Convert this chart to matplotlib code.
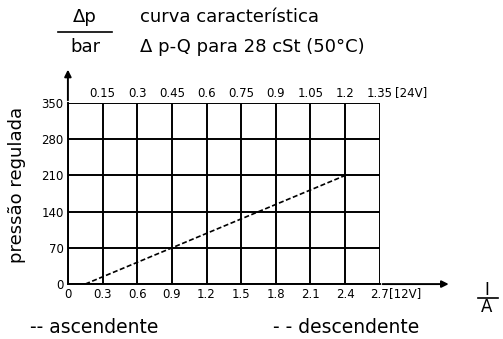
import matplotlib.pyplot as plt
from matplotlib.ticker import FixedLocator

# data
corrente = [0.15, 2.4]          # A (12V)
pressao = [0, 210]              # bar
x_ticks = [0, 0.3, 0.6, 0.9, 1.2, 1.5, 1.8, 2.1, 2.4, 2.7]
x_labels = ["0", "0.3", "0.6", "0.9", "1.2", "1.5", "1.8", "2.1", "2.4", "2.7"]
top_ticks = [0.15, 0.3, 0.45, 0.6, 0.75, 0.9, 1.05, 1.2, 1.35]
top_labels = ["0.15", "0.3", "0.45", "0.6", "0.75", "0.9", "1.05", "1.2", "1.35"]
y_ticks = [0, 70, 140, 210, 280, 350]

fig = plt.figure(figsize=(5.03, 3.39), dpi=100)
ax = fig.add_axes([0.135, 0.162, 0.62, 0.534])

ax.plot(corrente, pressao, color='black', lw=1.2, linestyle=(0, (3, 1.5)))

ax.set_xlim(0, 2.7)
ax.set_ylim(0, 350)
ax.set_xticks(x_ticks)
ax.set_xticklabels(x_labels)
ax.set_yticks(y_ticks)
ax.grid(True, color='black', lw=1.4)
ax.tick_params(length=0, labelsize=8.5, pad=3)
for s in ['top', 'right']:
    ax.spines[s].set_visible(False)
for s in ['left', 'bottom']:
    ax.spines[s].set_linewidth(1.4)
ax.text(1.03, -0.017, "[12V]", transform=ax.transAxes, fontsize=8.5, va='top')

top = ax.secondary_xaxis('top', functions=(lambda x: x / 2, lambda x: x * 2))
top.xaxis.set_major_locator(FixedLocator(top_ticks))
top.set_xticklabels(top_labels)
top.tick_params(length=0, labelsize=8.5, pad=2)
top.spines['top'].set_visible(False)
ax.text(1.05, 1.022, "[24V]", transform=ax.transAxes, fontsize=8.5, va='bottom')

# axis arrows
ax.annotate('', xy=(0, 1.2), xytext=(0, 1.0), xycoords='axes fraction',
            arrowprops=dict(arrowstyle='-|>', color='black', lw=1.4, mutation_scale=10))
ax.annotate('', xy=(1.23, 0), xytext=(1.0, 0), xycoords='axes fraction',
            arrowprops=dict(arrowstyle='-|>', color='black', lw=1.4, mutation_scale=10))

ax.set_ylabel("pressão regulada", fontsize=13)
ax.yaxis.set_label_coords(-0.135, 0.547)

# header texts
fig.text(0.169, 0.95, "Δp", fontsize=13, ha='center', va='center')
fig.add_artist(plt.Line2D([0.115, 0.222], [0.905, 0.905], color='black', lw=1.2))
fig.text(0.169, 0.862, "bar", fontsize=13, ha='center', va='center')
fig.text(0.278, 0.95, "curva característica", fontsize=13, va='center')
fig.text(0.278, 0.862, "Δ p-Q para 28 cSt (50°C)", fontsize=13, va='center')

fig.text(0.968, 0.145, "I", fontsize=12, ha='center', va='center')
fig.add_artist(plt.Line2D([0.95, 0.99], [0.122, 0.122], color='black', lw=1.2))
fig.text(0.968, 0.093, "A", fontsize=12, ha='center', va='center')

fig.text(0.06, 0.035, "-- ascendente", fontsize=13.5, va='center')
fig.text(0.543, 0.035, "- - descendente", fontsize=13.5, va='center')

fig.savefig("out.png", dpi=100)
